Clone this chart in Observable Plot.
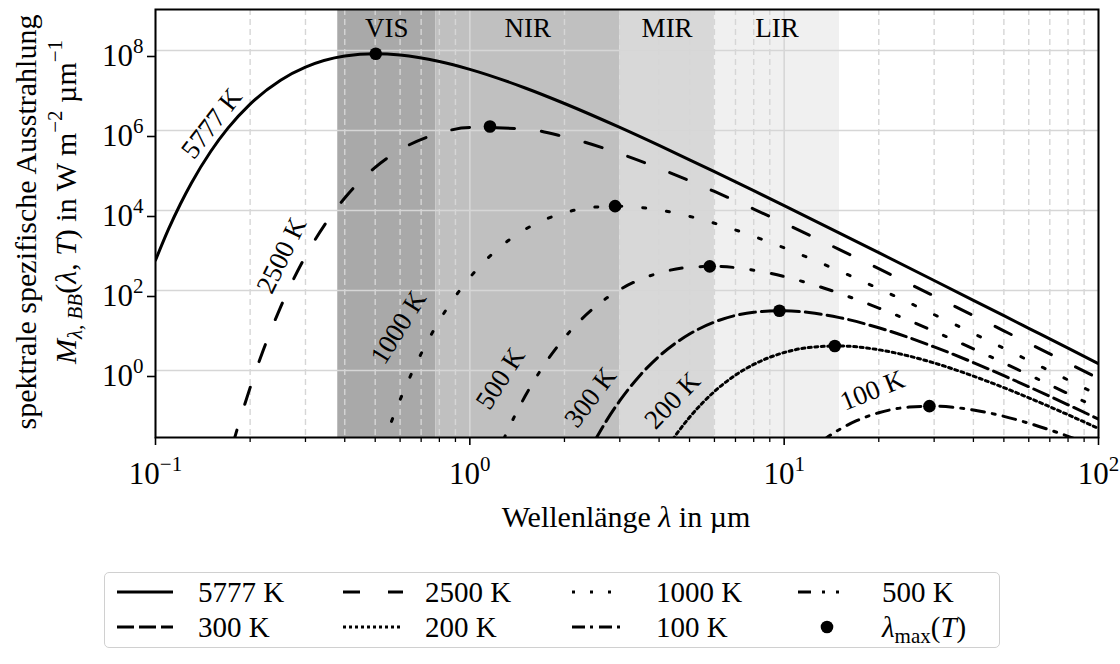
<!DOCTYPE html>
<html><head><meta charset="utf-8">
<script src="https://cdn.jsdelivr.net/npm/d3@7"></script>
<script src="https://cdn.jsdelivr.net/npm/@observablehq/plot@0.6"></script>
<style>
body{margin:0;background:#fff;font-family:"Liberation Serif",serif;}
#wrap{position:relative;width:1120px;height:664px;overflow:hidden;}
#legend{position:absolute;left:104px;top:572px;width:896px;height:76px;border:1.5px solid #d0d0d0;border-radius:5px;box-sizing:border-box;background:#fff;}
#legend svg{position:absolute;left:-1.5px;top:-1.5px;}
</style></head><body><div id="wrap"><div id="legend"></div></div>
<script>
// ---- data (log10 of M in W m^-2 µm^-1) ----
const lam5777 = [0.1,0.11,0.12,0.13,0.15,0.17,0.2,0.25,0.3,0.4,0.5,0.6,0.8,1,1.5,2,3,4,5,6,8,10,15,20,30,40,50,60,80,100];
const log5777 = [2.756,3.533,4.163,4.683,5.482,6.058,6.660,7.257,7.582,7.860,7.918,7.886,7.725,7.529,7.063,6.675,6.076,5.626,5.268,4.971,4.495,4.122,3.436,2.945,2.250,1.755,1.370,1.055,0.558,0.171];
const lam2500 = [0.175,0.18,0.2,0.22,0.25,0.3,0.35,0.4,0.5,0.6,0.8,1,1.5,2,3,4,5,6,8,10,15,20,30,40,50,60,80,100];
const log2500 = [-1.925,-1.589,-0.429,0.500,1.586,2.856,3.712,4.314,5.079,5.517,5.934,6.075,6.036,5.843,5.423,5.056,4.743,4.476,4.035,3.682,3.023,2.545,1.862,1.373,0.992,0.680,0.185,-0.199];
const lam1000 = [0.53,0.55,0.6,0.7,0.8,1,1.2,1.5,2,2.5,3,4,5,6,8,10,15,20,30,40,50,60,80,100];
const log1000 = [-1.838,-1.490,-0.732,0.421,1.247,2.324,2.970,3.527,3.944,4.085,4.108,4.013,3.854,3.682,3.355,3.066,2.486,2.046,1.398,0.926,0.555,0.249,-0.237,-0.616];
const lam500 = [1.25,1.3,1.5,1.7,2,2.5,3,4,5,6,8,10,12,15,20,30,40,50,60,80,100];
const log500 = [-1.910,-1.610,-0.639,0.070,0.819,1.585,2.022,2.439,2.580,2.603,2.508,2.349,2.177,1.928,1.561,0.981,0.540,0.187,-0.107,-0.579,-0.950];
const lam300 = [2.5,2.7,3,3.5,4,5,6,8,10,12,15,20,30,40,50,60,80,100];
const log300 = [-1.748,-1.298,-0.755,-0.098,0.356,0.912,1.211,1.455,1.494,1.450,1.322,1.068,0.591,0.198,-0.129,-0.406,-0.857,-1.216];
const lam200 = [4.3,4.5,5,6,7,8,10,12,15,20,25,30,40,50,60,80,100];
const log200 = [-1.860,-1.636,-1.170,-0.525,-0.116,0.152,0.449,0.575,0.613,0.518,0.359,0.188,-0.140,-0.429,-0.683,-1.106,-1.449];
const lam100 = [13,14,15,17,20,25,30,35,40,50,60,70,80,90,100];
const log100 = [-1.803,-1.621,-1.473,-1.255,-1.056,-0.915,-0.892,-0.925,-0.987,-1.146,-1.318,-1.486,-1.645,-1.794,-1.934];

const seriesNames = ["5777 K","2500 K","1000 K","500 K","300 K","200 K","100 K"];
const peakLam = [0.502,1.159,2.898,5.796,9.66,14.49,28.98];
const peakLog = [7.918,6.099,4.109,2.604,1.495,0.614,-0.891];

const bandNames = ["VIS","NIR","MIR","LIR"];
const bandStart = [0.38,0.78,3,6];
const bandEnd = [0.78,3,6,15];

const labelLam = [0.151,0.252,0.593,1.252,2.42,4.41,19.1];
const labelLog = [6.175,2.875,1.075,-0.2,-0.675,-0.75,-0.5];
const labelAngle = [-52,-64,-58,-57,-53,-46,-22];

const majorX = [0.1,1,10,100];
const minorX = [0.2,0.3,0.4,0.5,0.6,0.7,0.8,0.9,2,3,4,5,6,7,8,9,20,30,40,50,60,70,80,90];
const majorY = [1,1e2,1e4,1e6,1e8];

// ---- styles ----
const bandFill = ["#a9a9a9","#c0c0c0","#d8d8d8","#f0f0f0"];
const dashes = [null,"18,27","3,21","12,18,3,18","16,6","3,3.5","13,8,3,8"];
const legendDashes = [null,"17,28","3,15","13,11,3,11,3,14","17,5","3,3","13,5,3,6"];

const lamArr = [lam5777,lam2500,lam1000,lam500,lam300,lam200,lam100];
const logArr = [log5777,log2500,log1000,log500,log300,log200,log100];
const series = seriesNames.map((name,k) => lamArr[k].map((l,i) => ({T:name, lam:l, M:10**logArr[k][i]})));
const peaks = peakLam.map((l,i) => ({lam:l, M:10**peakLog[i]}));
const bands = bandNames.map((n,i) => ({name:n, start:bandStart[i], end:bandEnd[i], fill:bandFill[i]}));
const labels = seriesNames.map((n,i) => ({name:n, lam:labelLam[i], M:10**labelLog[i], angle:labelAngle[i]}));

const yMin = 10**-1.675, yMax = 10**9.025;
const fmt = d => "10^" + Math.round(Math.log10(d));
const FONT = '"Liberation Serif", serif';

const chart = Plot.plot({
  width: 1120, height: 545,
  marginTop: 9, marginBottom: 108, marginLeft: 155, marginRight: 22,
  style: {fontFamily: FONT, fontSize: "28px", background: "white", overflow: "visible"},
  x: {type: "log", domain: [0.1, 100], label: null},
  y: {type: "log", domain: [yMin, yMax], label: null},
  marks: [
    ...bands.map(b => Plot.rect([b], {x1: "start", x2: "end", y1: yMin, y2: yMax, fill: b.fill})),
    Plot.gridX({ticks: minorX, stroke: "#d6d6d6", strokeOpacity: 1, strokeWidth: 1.4, strokeDasharray: "6,4"}),
    Plot.gridX({ticks: majorX, stroke: "#d6d6d6", strokeOpacity: 1, strokeWidth: 1.6}),
    Plot.gridY({ticks: majorY, stroke: "#d6d6d6", strokeOpacity: 1, strokeWidth: 1.6}),
    Plot.text(bands, {x: d => Math.sqrt(d.start*d.end), frameAnchor: "top", dy: 19, lineAnchor: "middle", text: "name", fontSize: 27, fill: "black"}),
    ...series.map((s,k) => Plot.line(s, {x: "lam", y: "M", stroke: "black", strokeWidth: 3, curve: "monotone-x", clip: true, strokeDasharray: dashes[k] || undefined})),
    Plot.dot(peaks, {x: "lam", y: "M", r: 6.3, fill: "black", stroke: null}),
    Plot.text(labels, {x: "lam", y: "M", text: "name", rotate: "angle", fontSize: 27, fill: "black"}),
    Plot.frame({stroke: "black", strokeWidth: 2}),
    Plot.axisX({ticks: majorX, tickSize: 8, tickPadding: 16, tickFormat: fmt, strokeWidth: 1.6, fontSize: 31, label: null}),
    Plot.axisX({ticks: minorX, tickSize: 5, tickFormat: () => "", strokeWidth: 1.3, label: null}),
    Plot.axisY({ticks: majorY, tickSize: 8, tickPadding: 4, tickFormat: fmt, strokeWidth: 1.6, fontSize: 31, dy: 6, label: null})
  ]
});
document.getElementById("wrap").prepend(chart);

// superscript tick labels
const svg = d3.select(chart);
svg.selectAll('[aria-label="x-axis tick label"] text, [aria-label="y-axis tick label"] text').each(function(){
  const s = this.textContent;
  if (!s.includes("^")) return;
  const [b, e] = s.split("^");
  this.textContent = "";
  const t = d3.select(this);
  t.append("tspan").text(b);
  t.append("tspan").attr("dy", -13).attr("font-size", 21).text(e.replace("-", "\u2212"));
});

// axis labels
const lab = svg.append("g").attr("font-family", FONT).attr("font-size", 30).attr("fill", "black");
const xl = lab.append("text").attr("x", 626).attr("y", 527).attr("text-anchor", "middle");
xl.append("tspan").text("Wellenlänge ");
xl.append("tspan").attr("font-style", "italic").text("λ");
xl.append("tspan").text(" in µm");

lab.append("text").attr("transform", "translate(36,222) rotate(-90)").attr("text-anchor", "middle").text("spektrale spezifische Ausstrahlung");
const yl = lab.append("text").attr("transform", "translate(76,202) rotate(-90)").attr("text-anchor", "middle");
yl.append("tspan").attr("font-style", "italic").text("M");
yl.append("tspan").attr("font-style", "italic").attr("font-size", 21).attr("dy", 6).text("λ, BB");
yl.append("tspan").attr("dy", -6).text("(");
yl.append("tspan").attr("font-style", "italic").text("λ");
yl.append("tspan").text(", ");
yl.append("tspan").attr("font-style", "italic").text("T");
yl.append("tspan").text(") in W m");
yl.append("tspan").attr("font-size", 21).attr("dy", -14).text("\u22122");
yl.append("tspan").attr("dy", 14).text(" µm");
yl.append("tspan").attr("font-size", 21).attr("dy", -14).text("\u22121");

// legend
const lg = d3.select("#legend").append("svg").attr("width", 896).attr("height", 76)
  .attr("font-family", FONT).attr("font-size", 29);
const rowsY = [20, 55];
const sampleX = [[13,69],[239,299],[468,521],[694,749]];
const textX = [94,321,552,778];
seriesNames.forEach((n,k) => {
  const r = Math.floor(k/4), c = k%4;
  lg.append("line").attr("x1", sampleX[c][0]).attr("x2", sampleX[c][1]).attr("y1", rowsY[r]).attr("y2", rowsY[r])
    .attr("stroke", "black").attr("stroke-width", 3).attr("stroke-dasharray", legendDashes[k]);
  lg.append("text").attr("x", textX[c]).attr("y", rowsY[r]).attr("dy", "0.35em").text(n);
});
lg.append("circle").attr("cx", 723).attr("cy", rowsY[1]).attr("r", 6.3).attr("fill", "black");
const lt = lg.append("text").attr("x", textX[3]).attr("y", rowsY[1]).attr("dy", "0.35em");
lt.append("tspan").attr("font-style", "italic").text("λ");
lt.append("tspan").attr("font-size", 21).attr("dy", 6).text("max");
lt.append("tspan").attr("dy", -6).text("(");
lt.append("tspan").attr("font-style", "italic").text("T");
lt.append("tspan").text(")");
</script></body></html>
